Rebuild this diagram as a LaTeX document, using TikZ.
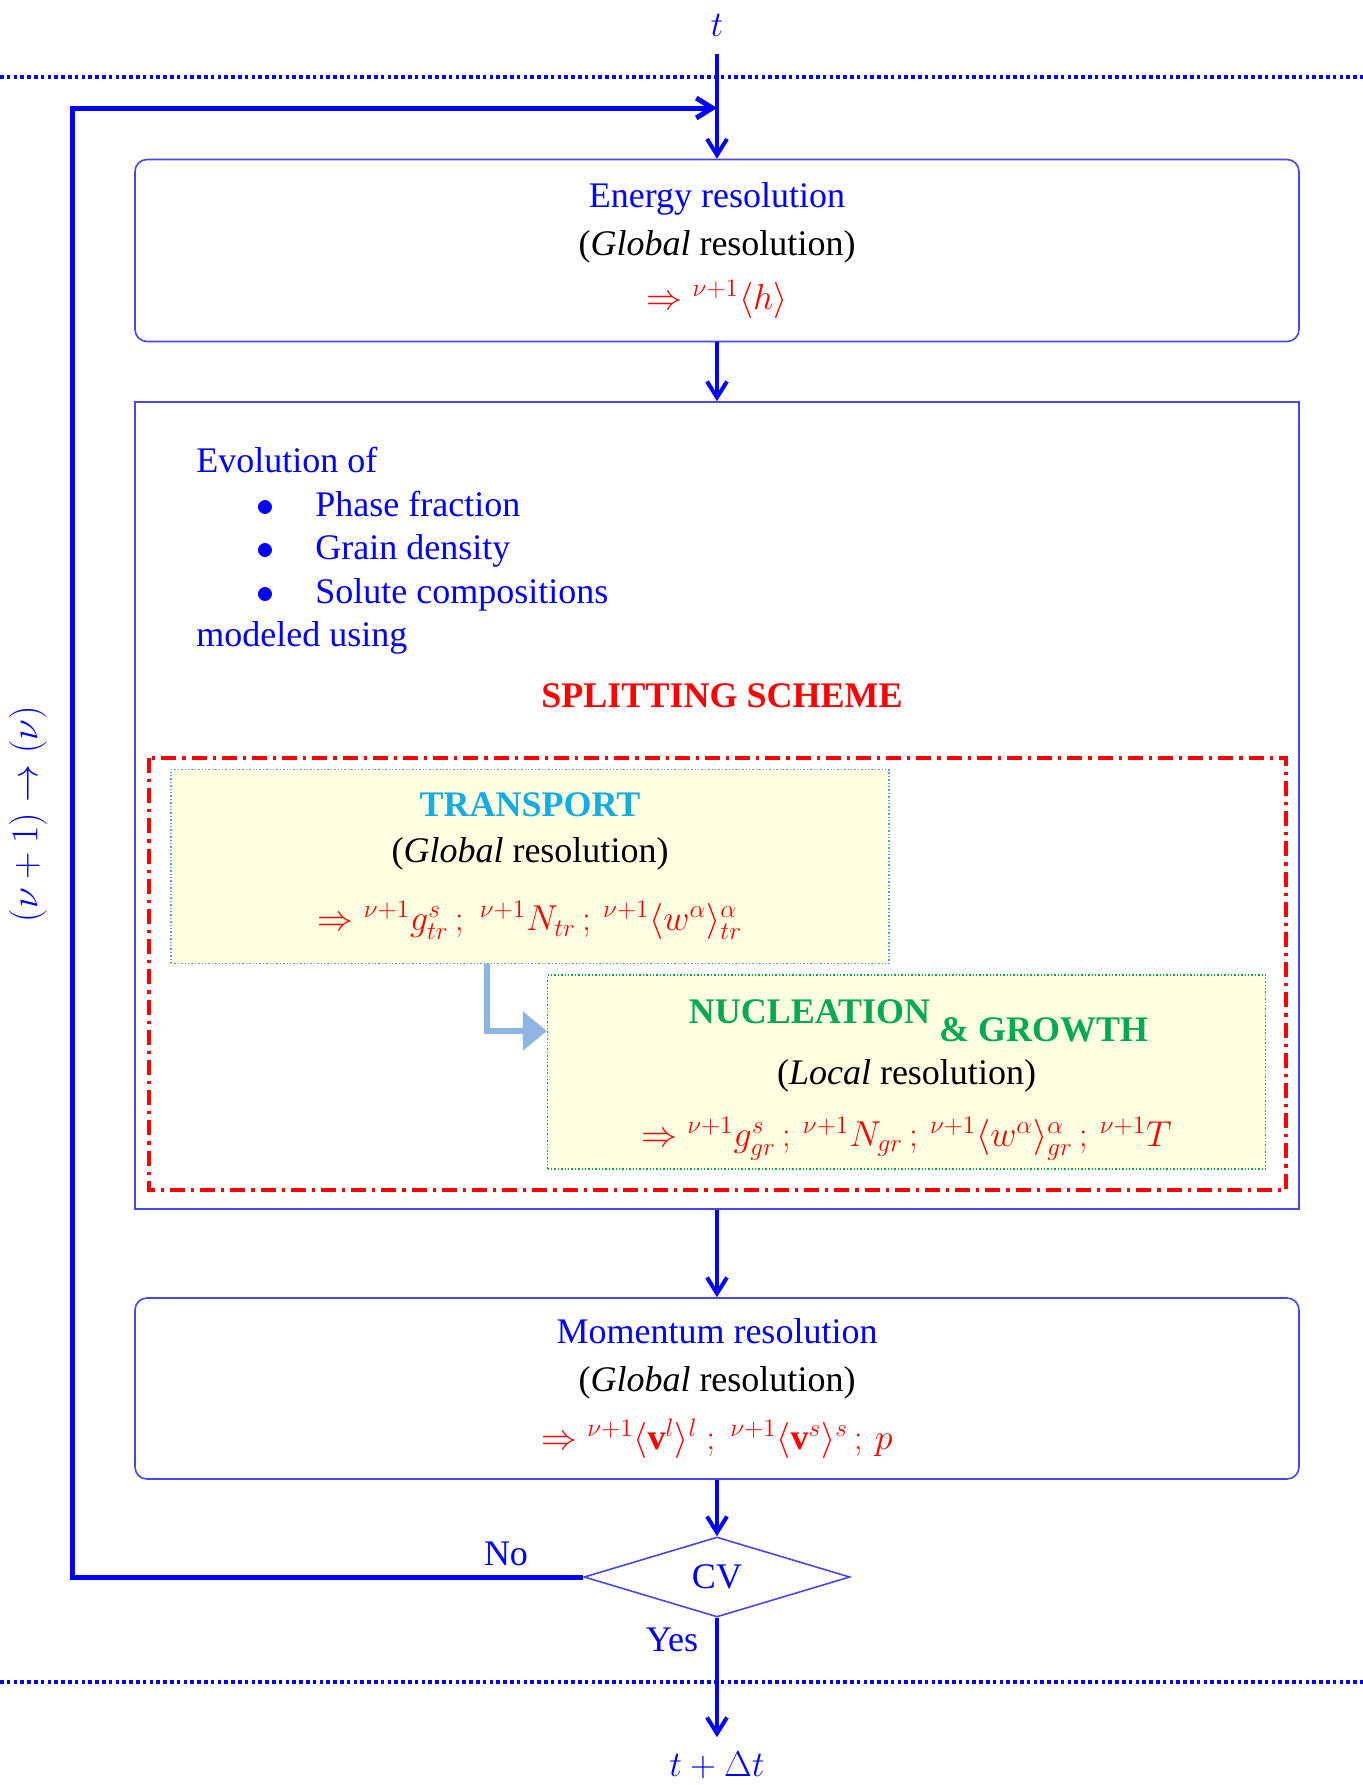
\RequirePackage{fix-cm}
\documentclass[tikz,border=0pt]{standalone}
\usepackage{fontspec}
\setmainfont{Liberation Serif}
\usepackage{amsmath}
\usepackage{amssymb}
\usepackage{xcolor}
\usepackage{tikz}
\usetikzlibrary{arrows.meta,positioning,shapes.geometric}

\definecolor{flowblue}{RGB}{0,0,255}
\definecolor{boxblue}{RGB}{70,70,255}
\definecolor{eqred}{RGB}{255,0,0}
\definecolor{trcyan}{RGB}{20,172,230}
\definecolor{nggreen}{RGB}{0,170,80}
\definecolor{paleyellow}{RGB}{255,255,226}
\definecolor{handblue}{RGB}{141,180,226}
\definecolor{trborder}{RGB}{91,155,213}

\newcommand{\listdot}{\makebox[59.5pt][l]{\hspace{30pt}$\bullet$}}

\begin{document}
\begin{tikzpicture}[
  x=0.5pt, y=-0.5pt,
  every node/.style={font=\fontsize{18}{24}\selectfont, inner sep=0pt},
  bigbox/.style={draw=boxblue, line width=0.8pt, minimum width=582pt},
  resbox/.style={bigbox, rounded corners=6pt, minimum height=91pt, align=center, text=flowblue},
  subbox/.style={densely dotted, line width=0.7pt, fill=paleyellow, minimum width=359pt, minimum height=97pt, align=center},
  arr/.style={flowblue, line width=2pt, -{Straight Barb[length=8pt,width=10pt]}},
  loopline/.style={flowblue, line width=2.5pt, -{Straight Barb[length=8pt,width=10pt]}},
  handarr/.style={handblue, line width=3pt, -{Triangle[length=12pt,width=19pt]}},
  timeline/.style={flowblue, line width=2pt, dash pattern=on 1.8pt off 1.6pt},
  splitframe/.style={eqred, line width=1.8pt, dash pattern=on 7.5pt off 3pt on 1.6pt off 3pt}
]
  \useasboundingbox (0,0) rectangle (1363,1785);

  \draw[timeline] (0,77) -- (1363,77);
  \draw[timeline] (0,1682) -- (1363,1682);

  \node[text=flowblue] (t) at (717,25) {$t$};
  \node[resbox] (energy) at (717,250.5) {Energy resolution\\
    \textcolor{black}{(\textit{Global} resolution)}\\[3pt]
    \textcolor{eqred}{$\Rightarrow {}^{\nu+1}\langle h\rangle$}};

  \node[bigbox, minimum height=403.5pt] (evol) at (717,805.5) {};
  \node[anchor=north west, align=left, text=flowblue, font=\fontsize{18}{21.75}\selectfont] (evolist) at (196,447) {Evolution of\\
    \listdot Phase fraction\\
    \listdot Grain density\\
    \listdot Solute compositions\\
    modeled using};
  \node[text=eqred, font=\fontsize{18}{24}\bfseries] (scheme) at (722,696) {SPLITTING SCHEME};
  \draw[splitframe] (149,758) rectangle (1286,1190);

  \node[subbox, draw=trborder] (transport) at (530,866.5) {{\bfseries\color{trcyan}TRANSPORT}\\[-1pt]
    (\textit{Global} resolution)\\[10pt]
    \textcolor{eqred}{$\Rightarrow {}^{\nu+1}g^{s}_{tr}\,;\; {}^{\nu+1}N_{tr}\,;\,{}^{\nu+1}\langle w^{\alpha}\rangle^{\alpha}_{tr}$}};
  \node[subbox, draw=nggreen] (nucleation) at (906.5,1072) {\rule{0pt}{19.5pt}{\bfseries\color{nggreen}\hspace{12pt}NUCLEATION\raisebox{-9pt}[\height][0pt]{ \& GROWTH}}\\[6.5pt]
    (\textit{Local} resolution)\\[7pt]
    \textcolor{eqred}{$\Rightarrow {}^{\nu+1}g^{s}_{gr}\,;\,{}^{\nu+1}N_{gr}\,;\,{}^{\nu+1}\langle w^{\alpha}\rangle^{\alpha}_{gr}\,;\,{}^{\nu+1}T$}};
  \coordinate (handoff) at (487,1031);
  \draw[handarr] (transport.south -| handoff) |- (nucleation.west |- handoff);

  \node[resbox, minimum height=90.5pt] (momentum) at (717,1388.5) {Momentum resolution\\
    \textcolor{black}{(\textit{Global} resolution)}\\[5pt]
    \textcolor{eqred}{$\Rightarrow {}^{\nu+1}\langle\mathbf{v}^{l}\rangle^{l}\ ;\ {}^{\nu+1}\langle\mathbf{v}^{s}\rangle^{s}\,;\,p$}};
  \node[diamond, draw=boxblue, line width=0.8pt, aspect=3.3, minimum width=133pt, minimum height=40pt, text=flowblue] (cv) at (717,1577) {CV};
  \node[text=flowblue] (tdt) at (717,1765) {$t+\Delta t$};

  \draw[arr, shorten <=9pt] (t) -- (energy);
  \draw[arr] (energy) -- (evol);
  \draw[arr] (evol) -- (momentum);
  \draw[arr] (momentum) -- (cv);
  \draw[arr, shorten >=7pt] (cv) -- (tdt);

  \coordinate (back) at (72,108);
  \draw[loopline] (cv.west) -| (back) -- (back -| t);
  \node[text=flowblue] (no) at (506,1554) {No};
  \node[text=flowblue] (yes) at (672,1640) {Yes};
  \node[rotate=90, text=flowblue, font=\fontsize{19}{24}\selectfont] (iter) at (28,814) {$(\nu+1)\rightarrow(\nu)$};
\end{tikzpicture}
\end{document}
